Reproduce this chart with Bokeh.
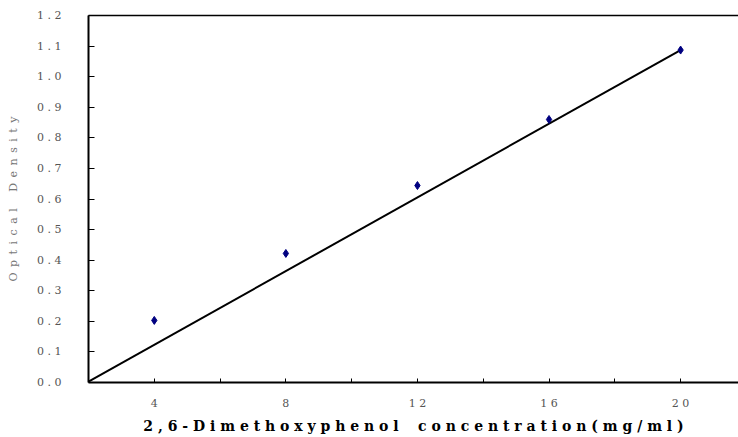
from bokeh.plotting import figure
from bokeh.models import Range1d, FixedTicker, LinearAxis, ColumnDataSource
from bokeh.embed import file_html
from bokeh.resources import INLINE

NB = "\u00a0"
EN = "\u2002"

# data
conc = [4, 8, 12, 16, 20]
od = [0.203, 0.422, 0.644, 0.860, 1.087]
fit_x = [2, 20]
fit_y = [0.003, 1.087]

y_ticks = [0.0, 0.1, 0.2, 0.3, 0.4, 0.5, 0.6, 0.7, 0.8, 0.9, 1.0, 1.1, 1.2]
x_ticks = [4, 6, 8, 10, 12, 14, 16, 18, 20]
x_labeled = [4, 8, 12, 16, 20]

def spaced(s, sep, word_sep):
    words = s.split(" ")
    return word_sep.join(sep.join(list(w)) for w in words)

p = figure(width=738, height=437, output_backend="svg", toolbar_location=None,
           x_range=Range1d(2, 21.76), y_range=Range1d(0, 1.2),
           min_border_left=88, min_border_right=0, min_border_top=15, min_border_bottom=55)
p.outline_line_color = None
p.xgrid.grid_line_color = None
p.ygrid.grid_line_color = None
p.background_fill_color = "white"
p.border_fill_color = "white"

xa = p.below[0]
xa.ticker = FixedTicker(ticks=x_ticks)
xa.major_label_overrides = {t: (NB.join(list(str(t))) if t in x_labeled else "") for t in x_ticks}
xa.major_tick_in = 4
xa.major_tick_out = 0
xa.minor_tick_line_color = None
xa.axis_line_width = 2
xa.major_tick_line_width = 1
xa.major_label_standoff = 14
xa.major_label_text_font = "DejaVu Serif"
xa.major_label_text_font_size = "11px"
xa.major_label_text_color = "#555555"
xa.axis_label = spaced("2,6-Dimethoxyphenol concentration(mg/ml)", NB, NB * 4)
xa.axis_label_text_font = "DejaVu Serif"
xa.axis_label_text_font_style = "bold"
xa.axis_label_text_font_size = "14px"
xa.axis_label_text_color = "black"
xa.axis_label_standoff = 5

ya = p.left[0]
ya.ticker = FixedTicker(ticks=y_ticks)
ya.major_label_overrides = {t: NB.join(list(f"{t:.1f}")) for t in y_ticks}
ya.major_tick_in = 6
ya.major_tick_out = 0
ya.minor_tick_line_color = None
ya.axis_line_width = 2
ya.major_tick_line_width = 1
ya.major_label_standoff = 27
ya.major_label_text_font = "DejaVu Serif"
ya.major_label_text_font_size = "11px"
ya.major_label_text_color = "#555555"
ya.axis_label = spaced("Optical Density", EN, EN * 3)
ya.axis_label_text_font = "DejaVu Serif"
ya.axis_label_text_font_style = "normal"
ya.axis_label_text_font_size = "11px"
ya.axis_label_text_color = "#777777"
ya.axis_label_standoff = 14

# top border
top = LinearAxis(ticker=FixedTicker(ticks=[]), major_label_text_font_size="0px",
                 axis_line_width=1.5, axis_line_color="black",
                 major_tick_line_color=None, minor_tick_line_color=None)
p.add_layout(top, "above")

p.line(fit_x, fit_y, line_color="black", line_width=2)
src = ColumnDataSource(dict(x=conc, y=od))
p.scatter("x", "y", source=src, marker="diamond", size=8, fill_color="#000080",
          line_color="#000080")

open("out.html", "w").write(file_html(p, INLINE))
